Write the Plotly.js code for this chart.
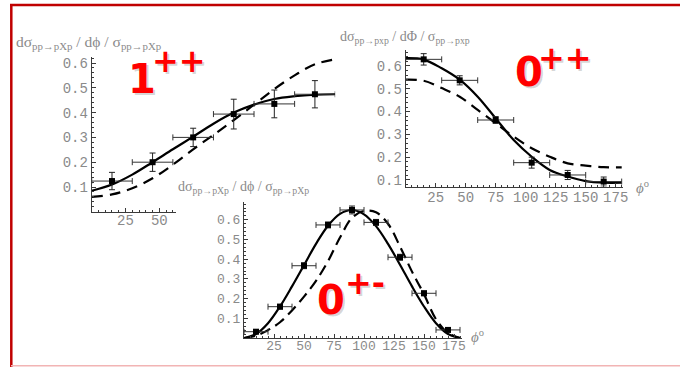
<!DOCTYPE html>
<html>
<head>
<meta charset="utf-8">
<script src="https://cdn.plot.ly/plotly-3.0.1.min.js"></script>
<style>
  html, body { margin:0; padding:0; background:#fff; }
  #wrap { position:relative; width:680px; height:367px; overflow:hidden; }
  #base, #top { position:absolute; left:0; top:0; width:680px; height:367px; }
  #mask { position:absolute; left:176px; top:179px; width:170px; height:50px; background:#fff; }
</style>
</head>
<body>
<div id="wrap"><div id="base"></div><div id="mask"></div><div id="top"></div></div>
<script>
// ---------- DATA ----------
// Panel 1++ : measured points
const phi1 = [15, 45, 75, 105, 135, 165];
const val1 = [0.124, 0.200, 0.300, 0.394, 0.435, 0.474];
const err1 = [0.035, 0.037, 0.037, 0.060, 0.056, 0.055];
const bin1 = [15, 15, 15, 15, 15, 15];
// Panel 1++ : model curves
const curvePhi1 = [0, 15, 30, 45, 60, 75, 90, 105, 120, 135, 150, 165, 180];
const solid1  = [0.085, 0.110, 0.150, 0.200, 0.252, 0.303, 0.355, 0.400, 0.432, 0.455, 0.466, 0.472, 0.474];
const dashed1 = [0.060, 0.070, 0.095, 0.135, 0.190, 0.252, 0.310, 0.370, 0.432, 0.495, 0.550, 0.595, 0.615];

// Panel 0++ : measured points
const phi2 = [15, 45, 75, 105, 135, 165];
const val2 = [0.629, 0.537, 0.363, 0.176, 0.122, 0.093];
const err2 = [0.025, 0.020, 0.015, 0.024, 0.020, 0.020];
const bin2 = [15, 15, 15, 15, 15, 15];
// Panel 0++ : model curves
const curvePhi2 = [0, 15, 30, 45, 60, 75, 90, 105, 120, 135, 150, 165, 180];
const solid2  = [0.634, 0.628, 0.590, 0.540, 0.465, 0.370, 0.275, 0.202, 0.144, 0.115, 0.095, 0.088, 0.088];
const dashed2 = [0.540, 0.535, 0.503, 0.465, 0.407, 0.349, 0.290, 0.239, 0.202, 0.173, 0.163, 0.156, 0.155];

// Panel 0+- : measured points
const phi3 = [10, 30, 50, 70, 90, 110, 130, 150, 170];
const val3 = [0.032, 0.159, 0.367, 0.574, 0.650, 0.587, 0.410, 0.227, 0.041];
const err3 = [0.010, 0.012, 0.015, 0.015, 0.020, 0.015, 0.015, 0.012, 0.010];
const bin3 = [10, 10, 10, 10, 10, 10, 10, 10, 10];
// Panel 0+- : model curves
const curvePhi3 = [0, 10, 20, 30, 40, 50, 60, 70, 80, 90, 100, 110, 120, 130, 140, 150, 160, 170, 180];
const solid3  = [0, 0.020, 0.075, 0.160, 0.262, 0.370, 0.478, 0.570, 0.630, 0.650, 0.628, 0.568, 0.478, 0.372, 0.262, 0.160, 0.075, 0.020, 0];
const dashed3 = [0, 0.012, 0.040, 0.080, 0.140, 0.210, 0.290, 0.390, 0.510, 0.610, 0.645, 0.638, 0.580, 0.465, 0.337, 0.222, 0.095, 0.025, 0];

// Tick labels
const xTicks1 = [25, 50];                       // the rest of panel 1's axis is hidden behind panel 3
const xTicks = [25, 50, 75, 100, 125, 150, 175];
const yTicks = [0.1, 0.2, 0.3, 0.4, 0.5, 0.6];
const yTickText = ['0.1', '0.2', '0.3', '0.4', '0.5', '0.6'];

// Texts
const title1 = 'dσ<sub>pp→pXp</sub> / dϕ / σ<sub>pp→pXp</sub>';
const title2 = 'dσ<sub>pp→pxp</sub> / dΦ / σ<sub>pp→pxp</sub>';
const title3 = 'dσ<sub>pp→pXp</sub> / dϕ / σ<sub>pp→pXp</sub>';
const labels = [['1', '++'], ['0', '++'], ['0', '+-']];
const phiLabel = '<i>ϕ</i><sup>o</sup>';

// ---------- HELPERS ----------
const W = 680, H = 367;
const px = x => x / W;
const py = y => 1 - y / H;
const AX = '#3a3a3a', LBL = '#8a8a8a';

function xAxis(domain, range, anchor, fs, standoff, vals) {
  return {
    domain, range, anchor, showline: true, linecolor: AX, linewidth: 1,
    ticks: 'inside', ticklen: 4, tickcolor: AX, tickwidth: 1,
    tickmode: 'array', tickvals: vals, ticklabelstandoff: standoff,
    tickfont: { family: 'Liberation Mono, monospace', size: fs, color: LBL },
    showgrid: false, zeroline: false, fixedrange: true,
    minor: { ticks: 'inside', ticklen: 2, tickcolor: AX, tickmode: 'linear', tick0: 0, dtick: 5, showgrid: false }
  };
}
function yAxis(domain, range, anchor, fs) {
  return {
    domain, range, anchor, showline: true, linecolor: AX, linewidth: 1,
    ticks: 'inside', ticklen: 4, tickcolor: AX, tickwidth: 1,
    tickmode: 'array', tickvals: yTicks, ticktext: yTickText,
    tickfont: { family: 'Liberation Mono, monospace', size: fs, color: LBL },
    showgrid: false, zeroline: false, fixedrange: true,
    minor: { ticks: 'inside', ticklen: 2, tickcolor: AX, tickmode: 'linear', tick0: 0, dtick: 0.02, showgrid: false }
  };
}
function pointsTrace(x, y, ey, ex, xa, ya) {
  return {
    type: 'scatter', mode: 'markers', x, y, xaxis: xa, yaxis: ya,
    marker: { symbol: 'square', size: 6, color: '#000' },
    error_y: { type: 'data', array: ey, visible: true, color: '#222', thickness: 1, width: 3 },
    error_x: { type: 'data', array: ex, visible: true, color: '#333', thickness: 1, width: 3 },
    cliponaxis: false, hoverinfo: 'skip'
  };
}
function curveTrace(x, y, dash, xa, ya) {
  return {
    type: 'scatter', mode: 'lines', x, y, xaxis: xa, yaxis: ya,
    line: { color: '#000', width: 2.2, shape: 'spline', smoothing: 1, dash: dash },
    hoverinfo: 'skip'
  };
}
function titleAnn(text, x, y, fs) {
  return { xref: 'paper', yref: 'paper', x: px(x), y: py(y), xanchor: 'left', yanchor: 'middle',
    text, showarrow: false, font: { family: 'Liberation Serif, serif', size: fs, color: LBL } };
}
function bigLabel(parts, x0, y0, x1, y1) {
  const out = [];
  const mk = (t, x, y, fs, col, dx, dy) => ({
    xref: 'paper', yref: 'paper', x: px(x + dx), y: py(y + dy), xanchor: 'center', yanchor: 'middle',
    text: '<b>' + t + '</b>', showarrow: false,
    font: { family: 'DejaVu Sans, sans-serif', size: fs, color: col }
  });
  out.push(mk(parts[0], x0, y0, 40, 'rgba(0,0,0,0.16)', 2, 2));
  out.push(mk(parts[1], x1, y1, 32, 'rgba(0,0,0,0.16)', 2, 2));
  out.push(mk(parts[0], x0, y0, 40, '#ff0000', 0, 0));
  out.push(mk(parts[1], x1, y1, 32, '#ff0000', 0, 0));
  return out;
}
function phiAnn(x, y) {
  return { xref: 'paper', yref: 'paper', x: px(x), y: py(y), xanchor: 'center', yanchor: 'middle',
    text: phiLabel, showarrow: false, font: { family: 'Liberation Serif, serif', size: 15, color: LBL } };
}

// ---------- BASE: panels 1++ and 0++ ----------
const baseData = [
  curveTrace(curvePhi1, dashed1, '11px,7px', 'x', 'y'),
  curveTrace(curvePhi1, solid1, 'solid', 'x', 'y'),
  pointsTrace(phi1, val1, err1, bin1, 'x', 'y'),
  curveTrace(curvePhi2, dashed2, '11px,7px', 'x2', 'y2'),
  curveTrace(curvePhi2, solid2, 'solid', 'x2', 'y2'),
  pointsTrace(phi2, val2, err2, bin2, 'x2', 'y2')
];
const baseLayout = {
  width: W, height: H, margin: { l: 0, r: 0, t: 0, b: 0 },
  paper_bgcolor: '#fff', plot_bgcolor: 'rgba(0,0,0,0)', showlegend: false,
  xaxis: xAxis([px(91.7), px(335.2)], [0, 180], 'y', 14, -5, xTicks1),
  yaxis: yAxis([py(211.8), py(56.8)], [0, 0.625], 'x', 14),
  xaxis2: xAxis([px(405.7), px(622.9)], [0, 181], 'y2', 14, -2, xTicks),
  yaxis2: yAxis([py(186.6), py(50)], [0.071, 0.67], 'x2', 14),
  shapes: [
    { type: 'line', xref: 'paper', yref: 'paper', x0: px(10), x1: 1, y0: py(5), y1: py(5), line: { color: '#c00000', width: 2.5 } },
    { type: 'line', xref: 'paper', yref: 'paper', x0: px(11.3), x1: px(11.3), y0: py(4), y1: 0, line: { color: '#c00000', width: 2.5 } },
    { type: 'line', xref: 'paper', yref: 'paper', x0: px(11), x1: 1, y0: py(365.8), y1: py(365.8), line: { color: '#f2b4b4', width: 1.5 } }
  ],
  annotations: [
    titleAnn(title1, 14, 42, 15.5),
    titleAnn(title2, 338, 37, 14),
    phiAnn(642, 187)
  ].concat(bigLabel(labels[0], 141.5, 79, 178.5, 61))
   .concat(bigLabel(labels[1], 529, 72.5, 565, 57.5))
};

// ---------- TOP: panel 0+- ----------
const topData = [
  curveTrace(curvePhi3, dashed3, '11px,6px', 'x', 'y'),
  curveTrace(curvePhi3, solid3, 'solid', 'x', 'y'),
  pointsTrace(phi3, val3, err3, bin3, 'x', 'y')
];
const topLayout = {
  width: W, height: H, margin: { l: 0, r: 0, t: 0, b: 0 },
  paper_bgcolor: 'rgba(0,0,0,0)', plot_bgcolor: 'rgba(0,0,0,0)', showlegend: false,
  xaxis: xAxis([px(244), px(462.4)], [0, 182], 'y', 13, -5, xTicks),
  yaxis: yAxis([py(338), py(202.1)], [0, 0.69], 'x', 13),
  annotations: [
    titleAnn(title3, 176, 187, 14),
    phiAnn(478, 336)
  ].concat(bigLabel(labels[2], 331, 300, 365, 283))
};

Plotly.newPlot('base', baseData, baseLayout, { staticPlot: true, displayModeBar: false });
Plotly.newPlot('top', topData, topLayout, { staticPlot: true, displayModeBar: false });
</script>
</body>
</html>
